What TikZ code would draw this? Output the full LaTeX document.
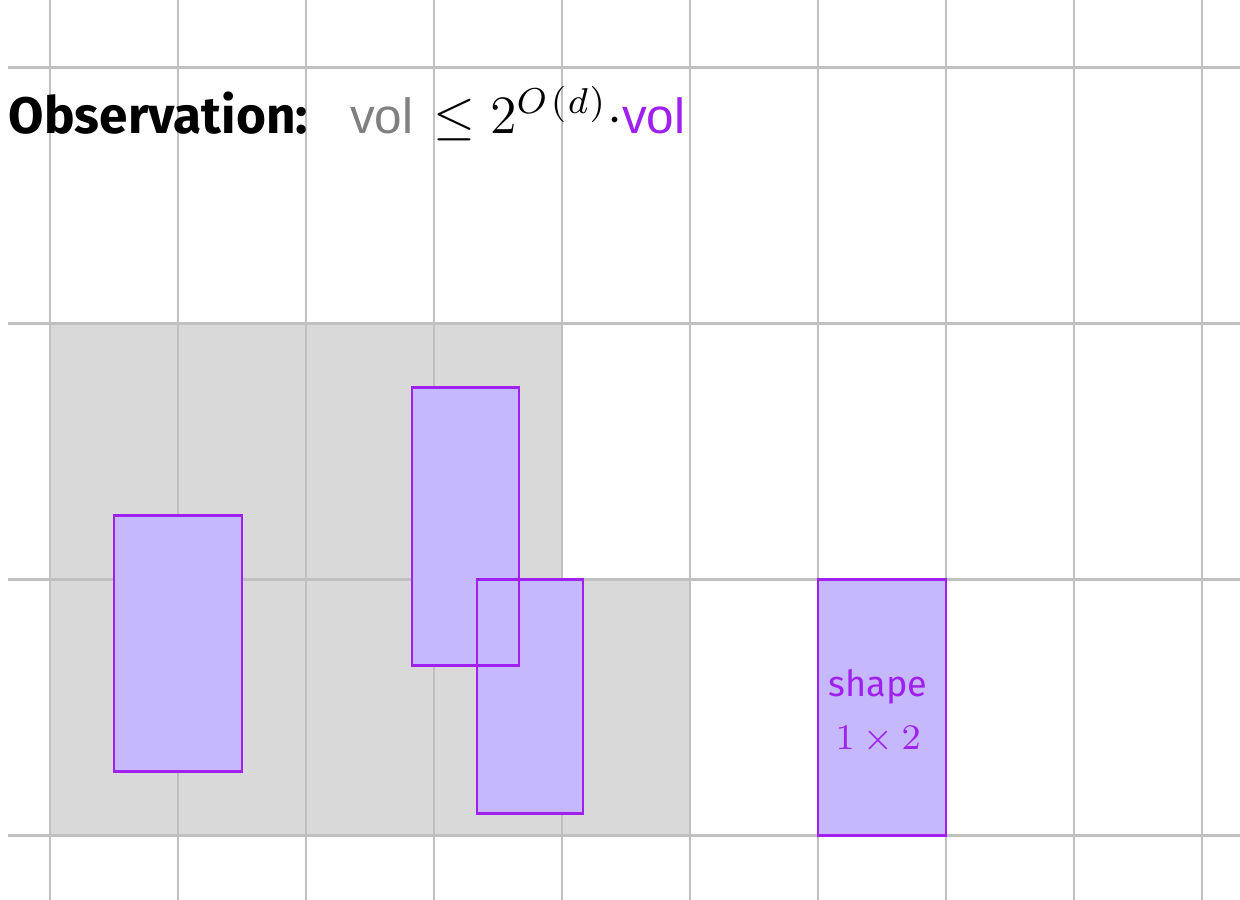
\documentclass[tikz,border=0pt]{standalone}
\usepackage{amsmath}
\usepackage{fontspec}
\setmainfont{Fira Sans}
\newfontfamily\volfont{Liberation Sans}
\definecolor{gridgray}{RGB}{192,192,192}
\definecolor{boxgray}{RGB}{217,217,217}
\definecolor{volgray}{RGB}{128,128,128}
\definecolor{shapeline}{RGB}{160,32,240}
\definecolor{shapefill}{RGB}{197,184,252}
\tikzset{
	gridline/.style={draw=gridgray, line width=0.66pt},
	shapefilling/.style={fill=shapefill},
	shapeedge/.style={draw=shapeline, line width=0.65pt},
	shapetext/.style={text=shapeline, inner sep=0, font=\fontsize{8}{10}\selectfont},
}

\begin{document}
\begin{tikzpicture}[font=\fontsize{11}{13}\selectfont]
		\useasboundingbox (-0.3906,-0.5) rectangle (9.297,6.531);
		\fill[boxgray] (0,0) -- (5,0) -- (5,2) -- (4,2) -- (4,4) -- (0,4) -- cycle; % covered region
		\foreach \x in {0,...,9}
			\draw[gridline] (\x,-0.5) -- (\x,6.531);
		\foreach \y in {0,2,4,6}
			\draw[gridline] (-0.328,\y) -- (9.297,\y);
		% shapes: fills first, edges on top
		\foreach \a/\b in {{0.5,0.5}/{1.5,2.5}, {2.828,1.328}/{3.664,3.5}, {3.336,0.172}/{4.164,2}, {6,0}/{7,2}}
			\fill[shapefilling] (\a) rectangle (\b);
		\foreach \a/\b in {{0.5,0.5}/{1.5,2.5}, {2.828,1.328}/{3.664,3.5}, {3.336,0.172}/{4.164,2}, {6,0}/{7,2}}
			\draw[shapeedge] (\a) rectangle (\b);
		\node[anchor=base west, inner sep=0] (obs) at (-0.328,5.49)
			{{\fontsize{11.4}{13}\selectfont\textbf{Observation:}}\hspace{0.33cm}{\volfont\color{volgray}vol}\ \hspace{1.5pt}%
			{\fontsize{12}{14}\selectfont$\le 2^{O\mkern2mu(\mkern1mu d\mkern1mu)}\cdot$}{\volfont\color{shapeline}vol}};
		\node[shapetext, anchor=base] (shp) at (6.47,1.086) {shape};
		\node[shapetext, anchor=base] (dim) at (6.47,0.672) {$1\times 2$};
\end{tikzpicture}
\end{document}
